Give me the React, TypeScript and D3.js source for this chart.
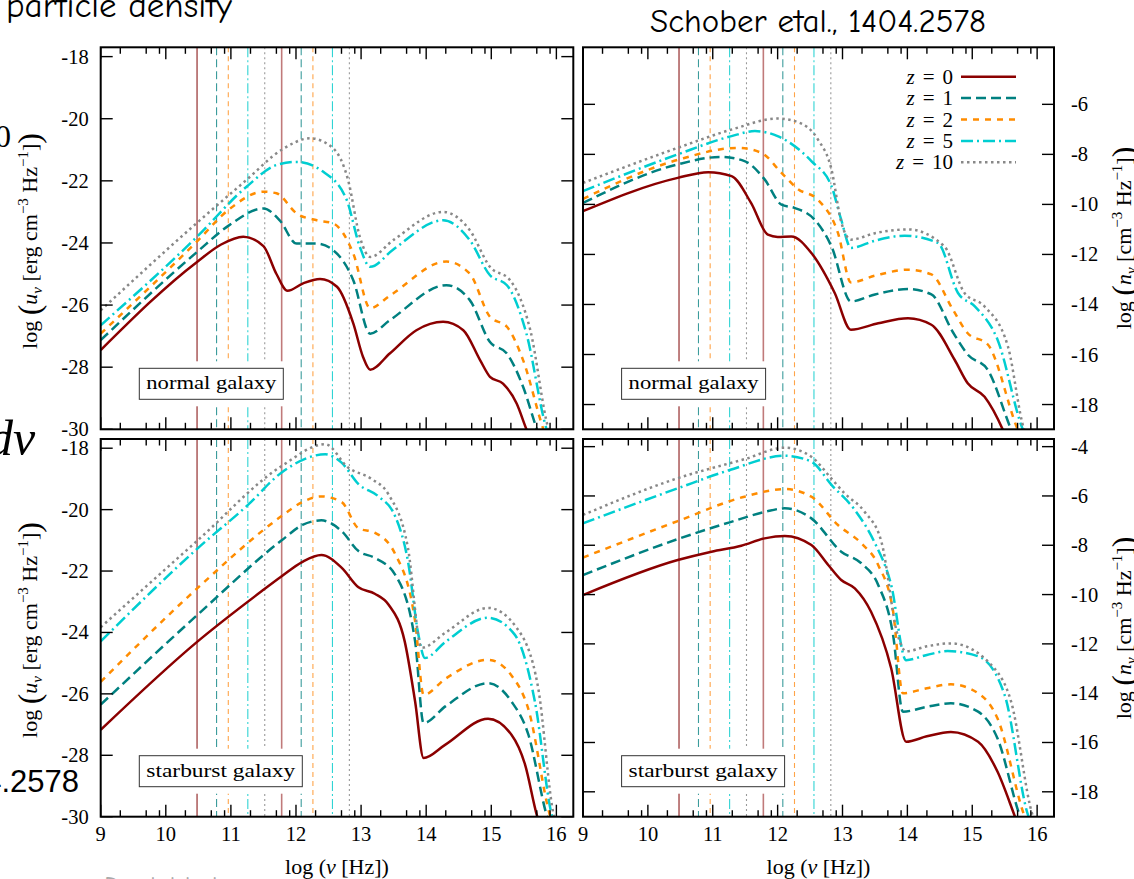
import React from 'react';
import * as d3 from 'd3';

type Pt = [number, number];

// ---------- data ----------
const redshiftLabels = ['0', '1', '2', '5', '10'];
const xTickMajor = [9, 10, 11, 12, 13, 14, 15, 16];
const xTickMinorOffsets = [0.301, 0.699, 0.903];
const yTicksU = [-18, -20, -22, -24, -26, -28, -30];
const yTicksNormalN = [-6, -8, -10, -12, -14, -16, -18];
const yTicksStarburstN = [-4, -6, -8, -10, -12, -14, -16, -18];
const vlineFreqs = [10.48, 10.78, 10.96, 11.26, 11.52, 11.78, 12.08, 12.26, 12.56, 12.82];
const vlineSeries = [0, 1, 2, 3, 4, 0, 1, 2, 3, 4];

// normal galaxy, u_nu
const normalU_z0: Pt[] = [[9,-27.45],[10.48,-24.61],[10.85,-24.05],[11.19,-23.8],[11.5,-24.1],[11.7,-25.0],[11.87,-25.54],[12.11,-25.3],[12.37,-25.16],[12.63,-25.41],[12.88,-26.59],[13.03,-27.67],[13.14,-28.08],[13.44,-27.56],[13.85,-26.81],[14.26,-26.54],[14.57,-26.81],[14.83,-27.78],[14.98,-28.31],[15.18,-28.53],[15.39,-29.17],[15.54,-30],[15.6,-30.3]];
const normalU_z1: Pt[] = [[9,-27.13],[10.48,-24.29],[10.96,-23.45],[11.5,-22.89],[11.75,-23.27],[12.01,-24.02],[12.32,-24.02],[12.57,-24.23],[12.88,-25.2],[13.14,-26.92],[13.44,-26.49],[14.31,-25.36],[14.67,-25.84],[14.98,-27.19],[15.24,-27.56],[15.49,-28.64],[15.7,-30],[15.75,-30.3]];
const normalU_z2: Pt[] = [[9,-26.92],[10.48,-23.95],[10.96,-22.94],[11.5,-22.35],[11.7,-22.4],[12.01,-23.05],[12.32,-23.27],[12.57,-23.37],[12.88,-24.34],[13.14,-26.1],[13.44,-25.7],[14.31,-24.6],[14.67,-24.99],[14.98,-26.38],[15.24,-26.7],[15.49,-27.78],[15.8,-30],[15.85,-30.3]];
const normalU_z5: Pt[] = [[9,-26.65],[10.48,-23.8],[11.24,-22.19],[11.7,-21.49],[12.01,-21.39],[12.42,-21.71],[12.78,-22.62],[12.98,-24.12],[13.14,-24.77],[13.5,-24.2],[14.26,-23.27],[14.67,-23.91],[14.98,-25.04],[15.24,-25.36],[15.54,-26.92],[15.85,-30],[15.9,-30.3]];
const normalU_z10: Pt[] = [[9,-26.17],[10.48,-23.35],[11.24,-21.97],[11.78,-21.0],[12.22,-20.63],[12.57,-20.95],[12.8,-21.97],[12.98,-23.8],[13.14,-24.45],[13.5,-23.9],[14.26,-23.0],[14.67,-23.59],[14.98,-24.77],[15.29,-25.2],[15.6,-26.81],[15.88,-30],[15.93,-30.3]];

// normal galaxy, n_nu
const normalN_z0: Pt[] = [[9,-10.27],[10.46,-8.94],[10.93,-8.71],[11.29,-8.87],[11.59,-9.94],[11.85,-11.21],[12.0,-11.3],[12.21,-11.28],[12.52,-11.94],[12.88,-13.54],[13.13,-15.01],[13.55,-14.75],[14.01,-14.55],[14.37,-14.81],[14.73,-16.22],[14.93,-17.15],[15.19,-17.69],[15.47,-19],[15.52,-19.3]];
const normalN_z1: Pt[] = [[9,-9.94],[10.46,-8.4],[11.13,-8.1],[11.49,-8.27],[11.8,-9.0],[12.06,-10.01],[12.26,-10.14],[12.57,-10.61],[12.83,-11.68],[13.13,-13.88],[13.5,-13.6],[14.01,-13.38],[14.37,-13.6],[14.7,-15.1],[14.93,-16.0],[15.24,-16.62],[15.6,-19],[15.65,-19.3]];
const normalN_z2: Pt[] = [[9,-9.78],[10.46,-8.22],[11.39,-7.74],[11.75,-7.94],[12.06,-8.74],[12.31,-9.38],[12.62,-9.81],[12.93,-11.14],[13.13,-13.12],[13.5,-12.85],[14.01,-12.61],[14.37,-12.8],[14.7,-14.2],[14.93,-15.15],[15.24,-15.6],[15.7,-19],[15.75,-19.3]];
const normalN_z5: Pt[] = [[9,-9.47],[10.46,-8.0],[11.29,-7.27],[11.65,-7.07],[12.0,-7.27],[12.52,-8.27],[12.83,-9.27],[12.98,-10.61],[13.13,-11.74],[13.5,-11.45],[13.96,-11.25],[14.47,-11.54],[14.78,-13.54],[15.04,-14.08],[15.39,-15.41],[15.78,-19],[15.83,-19.3]];
const normalN_z10: Pt[] = [[9,-9.14],[10.46,-7.74],[11.3,-7.0],[12.0,-6.57],[12.3,-6.7],[12.62,-7.4],[12.83,-8.6],[12.98,-10.7],[13.13,-11.41],[13.5,-11.15],[14.01,-11.0],[14.57,-11.68],[14.88,-13.54],[15.19,-14.08],[15.55,-15.68],[15.8,-19],[15.85,-19.3]];

// starburst galaxy, u_nu
const starU_z0: Pt[] = [[9,-27.17],[10.49,-24.29],[11.47,-22.66],[11.78,-22.17],[12.1,-21.7],[12.39,-21.48],[12.7,-21.89],[12.96,-22.53],[13.21,-22.74],[13.42,-23.09],[13.67,-24.29],[13.83,-26.25],[13.96,-28.09],[14.29,-27.66],[14.95,-26.81],[15.31,-27.33],[15.52,-28.31],[15.7,-29.95],[15.75,-30.3]];
const starU_z1: Pt[] = [[9,-26.35],[10.49,-23.42],[11.78,-21.0],[12.1,-20.5],[12.39,-20.35],[12.7,-20.7],[12.96,-21.35],[13.21,-21.57],[13.52,-22.11],[13.83,-24.29],[13.96,-26.95],[14.3,-26.4],[14.95,-25.65],[15.31,-26.25],[15.57,-27.33],[15.85,-29.95],[15.9,-30.3]];
const starU_z2: Pt[] = [[9,-25.61],[10.49,-22.55],[11.78,-20.21],[12.1,-19.75],[12.39,-19.57],[12.7,-19.75],[12.96,-20.61],[13.21,-20.75],[13.52,-21.43],[13.83,-23.64],[13.96,-26.03],[14.3,-25.5],[14.95,-24.89],[15.31,-25.4],[15.57,-26.5],[15.9,-29.95],[15.95,-30.3]];
const starU_z5: Pt[] = [[9,-24.29],[10.49,-21.26],[11.27,-19.83],[11.78,-18.79],[12.45,-18.2],[12.7,-18.47],[12.96,-19.17],[13.26,-19.56],[13.52,-20.2],[13.72,-21.68],[13.88,-24.07],[13.98,-24.83],[14.3,-24.3],[14.95,-23.52],[15.36,-24.07],[15.67,-26.25],[15.93,-29.95],[15.98,-30.3]];
const starU_z10: Pt[] = [[9,-23.83],[10.49,-21.0],[11.78,-18.58],[12.45,-17.87],[12.8,-18.63],[13.16,-19.0],[13.42,-19.5],[13.72,-21.25],[13.93,-24.5],[14.3,-24.0],[14.95,-23.2],[15.39,-23.85],[15.72,-25.8],[15.96,-29.95],[16.01,-30.3]];

// starburst galaxy, n_nu
const starN_z0: Pt[] = [[9,-10.02],[10.46,-8.6],[10.98,-8.26],[11.44,-8.02],[11.8,-7.72],[12.11,-7.62],[12.52,-7.99],[12.78,-8.8],[12.98,-9.41],[13.19,-9.75],[13.44,-10.7],[13.75,-12.99],[13.98,-15.97],[14.3,-15.75],[14.67,-15.57],[15.09,-15.97],[15.39,-17.19],[15.65,-18.95],[15.7,-19.3]];
const starN_z1: Pt[] = [[9,-9.21],[10.46,-7.75],[11.26,-7.07],[11.8,-6.65],[12.11,-6.5],[12.52,-6.91],[12.98,-8.26],[13.29,-8.73],[13.55,-9.61],[13.78,-11.64],[13.93,-14.75],[14.3,-14.55],[14.67,-14.41],[15.09,-14.75],[15.39,-15.84],[15.73,-18.95],[15.78,-19.3]];
const starN_z2: Pt[] = [[9,-8.5],[10.46,-7.02],[11.49,-6.03],[12.11,-5.72],[12.52,-6.03],[12.93,-7.18],[13.29,-7.92],[13.55,-8.8],[13.78,-10.69],[13.93,-14.0],[14.3,-13.8],[14.67,-13.64],[15.09,-14.0],[15.39,-15.03],[15.8,-18.95],[15.85,-19.3]];
const starN_z5: Pt[] = [[9,-7.11],[10.46,-5.69],[11.26,-4.95],[12.11,-4.37],[12.52,-4.61],[12.83,-5.55],[13.19,-6.57],[13.49,-7.86],[13.75,-9.61],[13.98,-12.66],[14.3,-12.45],[14.62,-12.29],[15.09,-12.5],[15.5,-14.08],[15.86,-18.95],[15.91,-19.3]];
const starN_z10: Pt[] = [[9,-6.77],[10.46,-5.28],[11.5,-4.5],[12.11,-4.04],[12.52,-4.41],[12.83,-5.3],[13.03,-5.89],[13.34,-6.64],[13.6,-7.86],[13.85,-11.64],[13.98,-12.3],[14.3,-12.1],[14.67,-11.98],[15.34,-12.99],[15.6,-14.35],[15.93,-18.95],[15.98,-19.3]];

const normalU = [normalU_z0, normalU_z1, normalU_z2, normalU_z5, normalU_z10];
const normalN = [normalN_z0, normalN_z1, normalN_z2, normalN_z5, normalN_z10];
const starU = [starU_z0, starU_z1, starU_z2, starU_z5, starU_z10];
const starN = [starN_z0, starN_z1, starN_z2, starN_z5, starN_z10];

// ---------- styles ----------
const seriesColors = ['#8b0000', '#008080', '#ff8c00', '#00ced1', '#888888'];
const seriesDash = ['none', '10,5', '6,6', '12,4,2,4', '2.5,3.5'];
const vColors = ['#8b1a1a', '#3c9c9c', '#ffa448', '#30d4d4', '#999999'];
const vDash = ['none', '8,4', '5,4', '10,3,2,3', '2,3'];

const SERIF = '"Liberation Serif", "DejaVu Serif", serif';
const FUN = '"Comic Sans MS", "Comic Neue", "Open Sans", sans-serif';
const X_DOMAIN: [number, number] = [9, 16.26];

type PanelCfg = {
  id: string;
  x0: number; x1: number; y0: number; y1: number;
  yDom: [number, number];
  yTicks: number[];
  side: 'left' | 'right';
  label: string;
  boxW: number;
  series: Pt[][];
  xLabels: boolean;
  legend: boolean;
};

const panels: PanelCfg[] = [
  { id: 'nu', x0: 100.7, x1: 573.3, y0: 47.3, y1: 429.3, yDom: [-30, -17.7], yTicks: yTicksU, side: 'left', label: 'normal galaxy', boxW: 144, series: normalU, xLabels: false, legend: false },
  { id: 'nn', x0: 583, x1: 1054, y0: 47.3, y1: 429.3, yDom: [-18.99, -3.72], yTicks: yTicksNormalN, side: 'right', label: 'normal galaxy', boxW: 144, series: normalN, xLabels: false, legend: true },
  { id: 'su', x0: 100.7, x1: 573.3, y0: 439, y1: 816.7, yDom: [-30, -17.7], yTicks: yTicksU, side: 'left', label: 'starburst galaxy', boxW: 163, series: starU, xLabels: true, legend: false },
  { id: 'sn', x0: 583, x1: 1054, y0: 439, y1: 816.7, yDom: [-19.01, -3.69], yTicks: yTicksStarburstN, side: 'right', label: 'starburst galaxy', boxW: 163, series: starN, xLabels: true, legend: false },
];

function Panel({ p }: { p: PanelCfg }) {
  const xs = d3.scaleLinear().domain(X_DOMAIN).range([p.x0, p.x1]);
  const ys = d3.scaleLinear().domain(p.yDom).range([p.y1, p.y0]);
  const line = d3.line<Pt>().x(d => xs(d[0])).y(d => ys(d[1])).curve(d3.curveMonotoneX);
  const minors: number[] = [];
  xTickMajor.forEach(m => xTickMinorOffsets.forEach(o => { const v = m + o; if (v < X_DOMAIN[1]) minors.push(v); }));
  const bx = p.x0 + 38.6, by = p.y1 - 61, bh = 31;
  const clip = `clip-${p.id}`;
  return (
    <g>
      <defs>
        <clipPath id={clip}><rect x={p.x0} y={p.y0} width={p.x1 - p.x0} height={p.y1 - p.y0} /></clipPath>
      </defs>
      <g clipPath={`url(#${clip})`}>
        {vlineFreqs.map((f, i) => (
          <line key={'v' + i} x1={xs(f)} x2={xs(f)} y1={p.y0} y2={p.y1}
            stroke={i === 5 ? '#c07a7a' : vColors[vlineSeries[i]]}
            strokeWidth={i === 5 ? 1.6 : 1.1}
            strokeDasharray={vDash[vlineSeries[i]]} />
        ))}
        <rect x={bx - 5} y={by - 7} width={p.boxW + 10} height={bh + 14} fill="#fff" />
        {p.series.map((s, i) => (
          <path key={'s' + i} d={line(s) || ''} fill="none" stroke={seriesColors[i]} strokeWidth={2.5}
            strokeDasharray={seriesDash[i]} strokeLinejoin="round" />
        ))}
      </g>
      <rect x={bx} y={by} width={p.boxW} height={bh} fill="#fff" stroke="#333" strokeWidth={1} />
      <text x={bx + p.boxW / 2} y={by + 21} textAnchor="middle" fontFamily={SERIF} fontSize={19}
        textLength={p.boxW - 14} lengthAdjust="spacingAndGlyphs">{p.label}</text>
      {xTickMajor.map(v => (
        <g key={'xt' + v}>
          <line x1={xs(v)} x2={xs(v)} y1={p.y1} y2={p.y1 - 12} stroke="#000" strokeWidth={1.4} />
          <line x1={xs(v)} x2={xs(v)} y1={p.y0} y2={p.y0 + 12} stroke="#000" strokeWidth={1.4} />
          {p.xLabels && (
            <text x={xs(v)} y={p.y1 + 24} textAnchor="middle" fontFamily={SERIF} fontSize={20.5}>{v}</text>
          )}
        </g>
      ))}
      {minors.map((v, i) => (
        <g key={'xm' + i}>
          <line x1={xs(v)} x2={xs(v)} y1={p.y1} y2={p.y1 - 6.5} stroke="#000" strokeWidth={1.4} />
          <line x1={xs(v)} x2={xs(v)} y1={p.y0} y2={p.y0 + 6.5} stroke="#000" strokeWidth={1.4} />
        </g>
      ))}
      {p.yTicks.map(v => (
        <g key={'yt' + v}>
          <line x1={p.x0} x2={p.x0 + 12} y1={ys(v)} y2={ys(v)} stroke="#000" strokeWidth={1.4} />
          <line x1={p.x1} x2={p.x1 - 12} y1={ys(v)} y2={ys(v)} stroke="#000" strokeWidth={1.4} />
          {p.side === 'left' ? (
            <text x={p.x0 - 12} y={ys(v) + 7} textAnchor="end" fontFamily={SERIF} fontSize={20.5}>{v}</text>
          ) : (
            <text x={p.x1 + 17} y={ys(v) + 7} textAnchor="start" fontFamily={SERIF} fontSize={20.5}>{v}</text>
          )}
        </g>
      ))}
      <rect x={p.x0} y={p.y0} width={p.x1 - p.x0} height={p.y1 - p.y0} fill="none" stroke="#000" strokeWidth={2} />
      {p.legend && (
        <g>
          {redshiftLabels.map((z, i) => {
            const yy = 76.7 + i * 21.4;
            return (
              <g key={'lg' + i}>
                <text x={953} y={yy + 7} textAnchor="end" fontFamily={SERIF} fontSize={21}>
                  <tspan fontStyle="italic">z</tspan><tspan dx={8}>=</tspan><tspan dx={8}>{z}</tspan>
                </text>
                <line x1={961} x2={1016} y1={yy} y2={yy} stroke={seriesColors[i]} strokeWidth={2.5} strokeDasharray={seriesDash[i]} />
              </g>
            );
          })}
        </g>
      )}
    </g>
  );
}

function YLabelU({ cx, cy }: { cx: number; cy: number }) {
  return (
    <text transform={`translate(${cx},${cy}) rotate(-90)`} textAnchor="middle" fontFamily={SERIF} fontSize={22}>
      log <tspan fontSize={32} dy={3}>(</tspan><tspan dy={-3} fontStyle="italic">u</tspan><tspan fontSize={15} dy={5} fontStyle="italic">ν</tspan><tspan dy={-5}> [erg cm</tspan><tspan fontSize={15} dy={-9}>−3</tspan><tspan dy={9}> Hz</tspan><tspan fontSize={15} dy={-9}>−1</tspan><tspan dy={9}>]</tspan><tspan fontSize={32} dy={3}>)</tspan>
    </text>
  );
}

function YLabelN({ cx, cy }: { cx: number; cy: number }) {
  return (
    <text transform={`translate(${cx},${cy}) rotate(-90)`} textAnchor="middle" fontFamily={SERIF} fontSize={22}>
      log <tspan fontSize={32} dy={3}>(</tspan><tspan dy={-3} fontStyle="italic">n</tspan><tspan fontSize={15} dy={5} fontStyle="italic">ν</tspan><tspan dy={-5}> [cm</tspan><tspan fontSize={15} dy={-9}>−3</tspan><tspan dy={9}> Hz</tspan><tspan fontSize={15} dy={-9}>−1</tspan><tspan dy={9}>]</tspan><tspan fontSize={32} dy={3}>)</tspan>
    </text>
  );
}

function XLabel({ cx }: { cx: number }) {
  return (
    <text x={cx} y={874} textAnchor="middle" fontFamily={SERIF} fontSize={22}>
      log (<tspan fontStyle="italic">ν</tspan> [Hz])
    </text>
  );
}

export default function App() {
  return (
    <svg width={1134} height={879} style={{ position: 'absolute', left: 0, top: 0, background: '#fff' }}>
      <rect x={0} y={0} width={1134} height={879} fill="#fff" />
      <text x={6} y={17} fontFamily={FUN} fontSize={35} fill="#000">particle density</text>
      <text x={818} y={32} textAnchor="middle" fontFamily={FUN} fontSize={33} fill="#000">Schober etal., 1404.2578</text>
      <text x={11} y={147} textAnchor="end" fontFamily={SERIF} fontSize={32}>0</text>
      <text x={-12} y={455} fontFamily={SERIF} fontSize={50} fontStyle="italic">dν</text>
      <text x={79} y={792} textAnchor="end" fontFamily='"Liberation Sans", Arial, sans-serif' fontSize={31}>1404.2578</text>
      <text x={104} y={895} fontFamily={FUN} fontSize={27} fill="#aaa">Daniel Lohse</text>

      {panels.map(p => <Panel key={p.id} p={p} />)}

      <YLabelU cx={37} cy={241} />
      <YLabelU cx={37} cy={630} />
      <YLabelN cx={1131} cy={238} />
      <YLabelN cx={1131} cy={628} />
      <XLabel cx={337} />
      <XLabel cx={818.5} />
    </svg>
  );
}
